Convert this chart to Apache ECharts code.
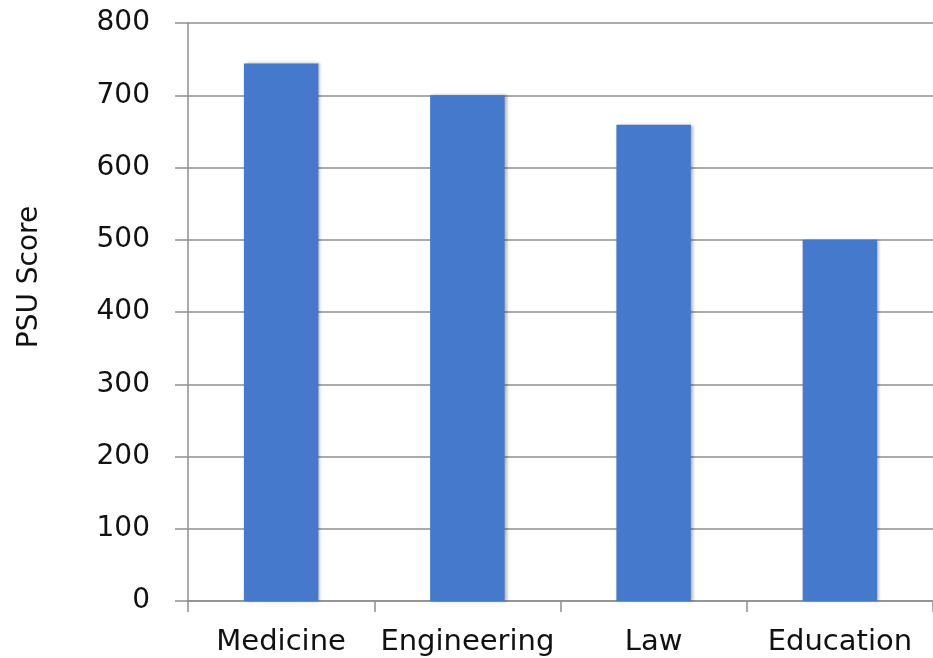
<!DOCTYPE html>
<html>
<head>
<meta charset="utf-8">
<script src="https://cdn.jsdelivr.net/npm/echarts@6/dist/echarts.min.js"></script>
<style>
html,body{margin:0;padding:0;background:#fff;}
#chart{width:933px;height:658px;}
</style>
</head>
<body>
<div id="chart"></div>
<script>
var categories = ['Medicine', 'Engineering', 'Law', 'Education'];
var scores = [744, 700, 659, 500];
var yTicks = [0, 100, 200, 300, 400, 500, 600, 700, 800];
var axisTitle = 'PSU Score';

var chart = echarts.init(document.getElementById('chart'), null, {renderer: 'canvas'});
var font = 'DejaVu Sans';
var gray = '#8f8f8f';
chart.setOption({
  animation: false,
  backgroundColor: '#ffffff',
  grid: {left: 188, top: 23, width: 750, height: 578, containLabel: false},
  xAxis: {
    type: 'category',
    data: categories,
    boundaryGap: true,
    axisLine: {show: true, lineStyle: {color: gray, width: 1.5}},
    axisTick: {show: true, interval: 0, length: 11, alignWithLabel: false, lineStyle: {color: gray, width: 1.5}},
    axisLabel: {interval: 0, hideOverlap: false, margin: 27, fontFamily: font, fontSize: 29, color: '#111'},
    splitLine: {show: false}
  },
  yAxis: {
    type: 'value',
    min: yTicks[0],
    max: yTicks[yTicks.length - 1],
    interval: 100,
    axisLine: {show: true, lineStyle: {color: gray, width: 1.5}},
    axisTick: {show: true, length: 13, lineStyle: {color: gray, width: 1.5}},
    axisLabel: {margin: 38, fontFamily: font, fontSize: 28, color: '#111'},
    splitLine: {show: true, lineStyle: {color: gray, width: 1.5}}
  },
  graphic: [{
    type: 'text',
    x: 30, y: 277,
    rotation: Math.PI / 2,
    style: {text: axisTitle, fontFamily: font, fontSize: 28, fill: '#111', align: 'center', verticalAlign: 'middle'}
  }],
  series: [{
    type: 'bar',
    data: scores,
    barWidth: '40%',
    itemStyle: {color: '#4579CB', shadowColor: 'rgba(0,0,0,0.3)', shadowBlur: 3, shadowOffsetX: 2, shadowOffsetY: 0}
  }]
});
</script>
</body>
</html>
